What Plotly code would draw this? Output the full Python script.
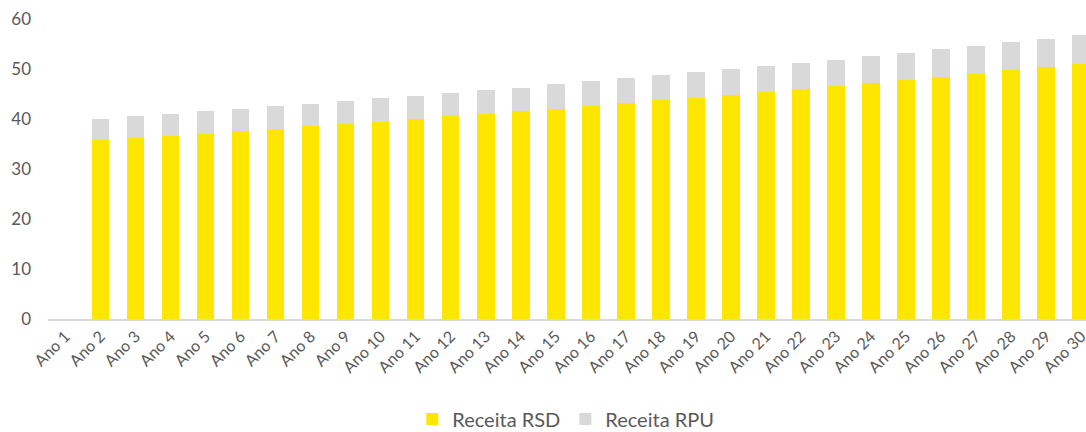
import plotly.graph_objects as go

categories = [f"Ano {i}" for i in range(1, 31)]
totals = [None, 40.1, 40.6, 41.1, 41.6, 42.1, 42.6, 43.1, 43.6, 44.2, 44.7, 45.3, 45.8, 46.3,
          47.0, 47.6, 48.2, 48.8, 49.4, 50.0, 50.7, 51.3, 51.9, 52.6, 53.3, 54.0, 54.7,
          55.4, 56.1, 56.9]
receita_rsd = [None, 35.8, 36.3, 36.7, 37.1, 37.7, 38.1, 38.6, 39.1, 39.5, 40.0, 40.6, 41.1, 41.6,
               42.1, 42.7, 43.2, 43.8, 44.3, 44.9, 45.5, 46.1, 46.7, 47.3, 47.9, 48.5, 49.1,
               49.9, 50.4, 51.1]
receita_rpu = [None if t is None else round(t - r, 2) for t, r in zip(totals, receita_rsd)]

FONT = "Lato"
TXT = "#595959"

fig = go.Figure()
fig.add_trace(go.Bar(x=categories, y=receita_rsd, name="Receita RSD",
                     marker=dict(color="#FFE600", line=dict(width=0))))
fig.add_trace(go.Bar(x=categories, y=receita_rpu, name="Receita RPU",
                     marker=dict(color="#D9D9D9", line=dict(width=0))))

fig.update_layout(
    width=1086, height=432,
    barmode="stack", bargap=0.5,
    plot_bgcolor="white", paper_bgcolor="white",
    margin=dict(l=48, r=0, t=19, b=113, autoexpand=False),
    font=dict(family=FONT, size=16, color=TXT),
    showlegend=True,
    legend=dict(orientation="h", x=0.521, xanchor="center", xref="container",
                y=0.03, yanchor="middle", yref="container",
                font=dict(size=20, color=TXT), traceorder="normal"),
    xaxis=dict(type="category", range=[-0.5, 29.14], tickangle=-45, automargin=False,
               showline=True, linecolor="#D9D9D9", linewidth=1.5, ticks="",
               showgrid=False, tickfont=dict(size=16, color=TXT)),
    yaxis=dict(range=[0, 60], dtick=10, showgrid=False, zeroline=False, automargin=False,
               showline=False, ticks="", ticklabelstandoff=16,
               tickfont=dict(size=17, color=TXT)),
)

fig.write_html(
    "out.html",
    config={"displayModeBar": False},
    post_script="document.body.style.margin='0';document.body.style.overflow='hidden';",
)
